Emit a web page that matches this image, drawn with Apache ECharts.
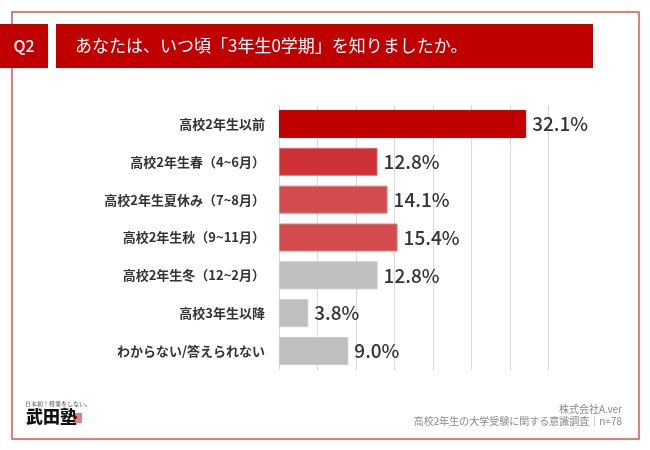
<!DOCTYPE html>
<html>
<head>
<meta charset="utf-8">
<script src="https://cdn.jsdelivr.net/npm/echarts@6/dist/echarts.min.js"></script>
<style>html,body{margin:0;padding:0;background:#fff}#c{width:650px;height:450px}</style>
</head>
<body>
<div id="c"></div>
<script>
var categories = ['高校2年生以前','高校2年生春（4~6月）','高校2年生夏休み（7~8月）','高校2年生秋（9~11月）','高校2年生冬（12~2月）','高校3年生以降','わからない/答えられない'];
var values = [32.1, 12.8, 14.1, 15.4, 12.8, 3.8, 9.0];
var barColors = ['#C00000','#CD3035','#D34B4F','#D34B4F','#BFBFBF','#BFBFBF','#BFBFBF'];
var borderColors = ['#C00000','#E07070','#E27E80','#E27E80','#C8C8C8','#C8C8C8','#C8C8C8'];
var titleText = 'あなたは、いつ頃「3年生0学期」を知りましたか。';
var qText = 'Q2';
var sourceLines = ['株式会社A.ver','高校2年生の大学受験に関する意識調査｜n=78'];

var FONT = '"Noto Sans CJK JP", "Noto Sans", sans-serif';
var chart = echarts.init(document.getElementById('c'));
chart.setOption({
  animation: false,
  backgroundColor: '#fff',
  grid: {left: 279, right: 101.5, top: 105, height: 265},
  xAxis: {
    type: 'value', min: 0, max: 35, interval: 5,
    axisLabel: {show: false}, axisLine: {show: false}, axisTick: {show: false},
    splitLine: {show: true, lineStyle: {color: '#D9D9D9', width: 1}}
  },
  yAxis: {
    type: 'category', inverse: true, data: categories,
    axisLine: {show: false}, axisTick: {show: false},
    axisLabel: {color: '#333', fontSize: 13, fontWeight: 'bold', fontFamily: FONT, margin: 14}
  },
  series: [{
    type: 'bar',
    barWidth: 28,
    data: values.map(function(v, i){
      return {value: v, itemStyle: {color: barColors[i], borderColor: borderColors[i], borderWidth: 1}};
    }),
    label: {
      show: true, position: 'right', distance: 6,
      formatter: function(p){ return p.value.toFixed(1) + '%'; },
      color: '#333', fontSize: 19, fontWeight: 500, fontFamily: FONT
    }
  }],
  graphic: [
    {type: 'rect', shape: {x: 12, y: 12, width: 627, height: 427}, style: {fill: 'none', stroke: '#D9534F', lineWidth: 1.5}, z: 0},
    {type: 'rect', shape: {x: 0, y: 24, width: 48, height: 44}, style: {fill: '#C00000'}, z: 10},
    {type: 'text', x: 24, y: 46, style: {text: qText, fill: '#fff', font: '500 16px ' + FONT, textAlign: 'center', textVerticalAlign: 'middle'}, z: 11},
    {type: 'rect', shape: {x: 56, y: 24, width: 537, height: 44}, style: {fill: '#C00000'}, z: 10},
    {type: 'text', x: 75, y: 46, style: {text: titleText, fill: '#fff', font: '17px ' + FONT, textAlign: 'left', textVerticalAlign: 'middle'}, z: 11},
    {type: 'text', x: 622, y: 409, style: {text: sourceLines[0], fill: '#888', font: '10px ' + FONT, textAlign: 'right', textVerticalAlign: 'middle'}, z: 11},
    {type: 'text', x: 622, y: 421, style: {text: sourceLines[1], fill: '#888', font: '10px ' + FONT, textAlign: 'right', textVerticalAlign: 'middle'}, z: 11},
    {type: 'text', x: 25, y: 404, style: {text: '日本初！授業をしない。', fill: '#222', font: '6px "Noto Serif CJK JP", ' + FONT, textAlign: 'left', textVerticalAlign: 'middle'}, z: 11},
    {type: 'text', x: 26, y: 417, style: {text: '武田塾', fill: '#111', font: '900 17px ' + FONT, textAlign: 'left', textVerticalAlign: 'middle'}, z: 11},
    {type: 'rect', shape: {x: 73, y: 413, width: 9, height: 10}, style: {fill: '#E08080'}, z: 10}
  ]
});
</script>
</body>
</html>
